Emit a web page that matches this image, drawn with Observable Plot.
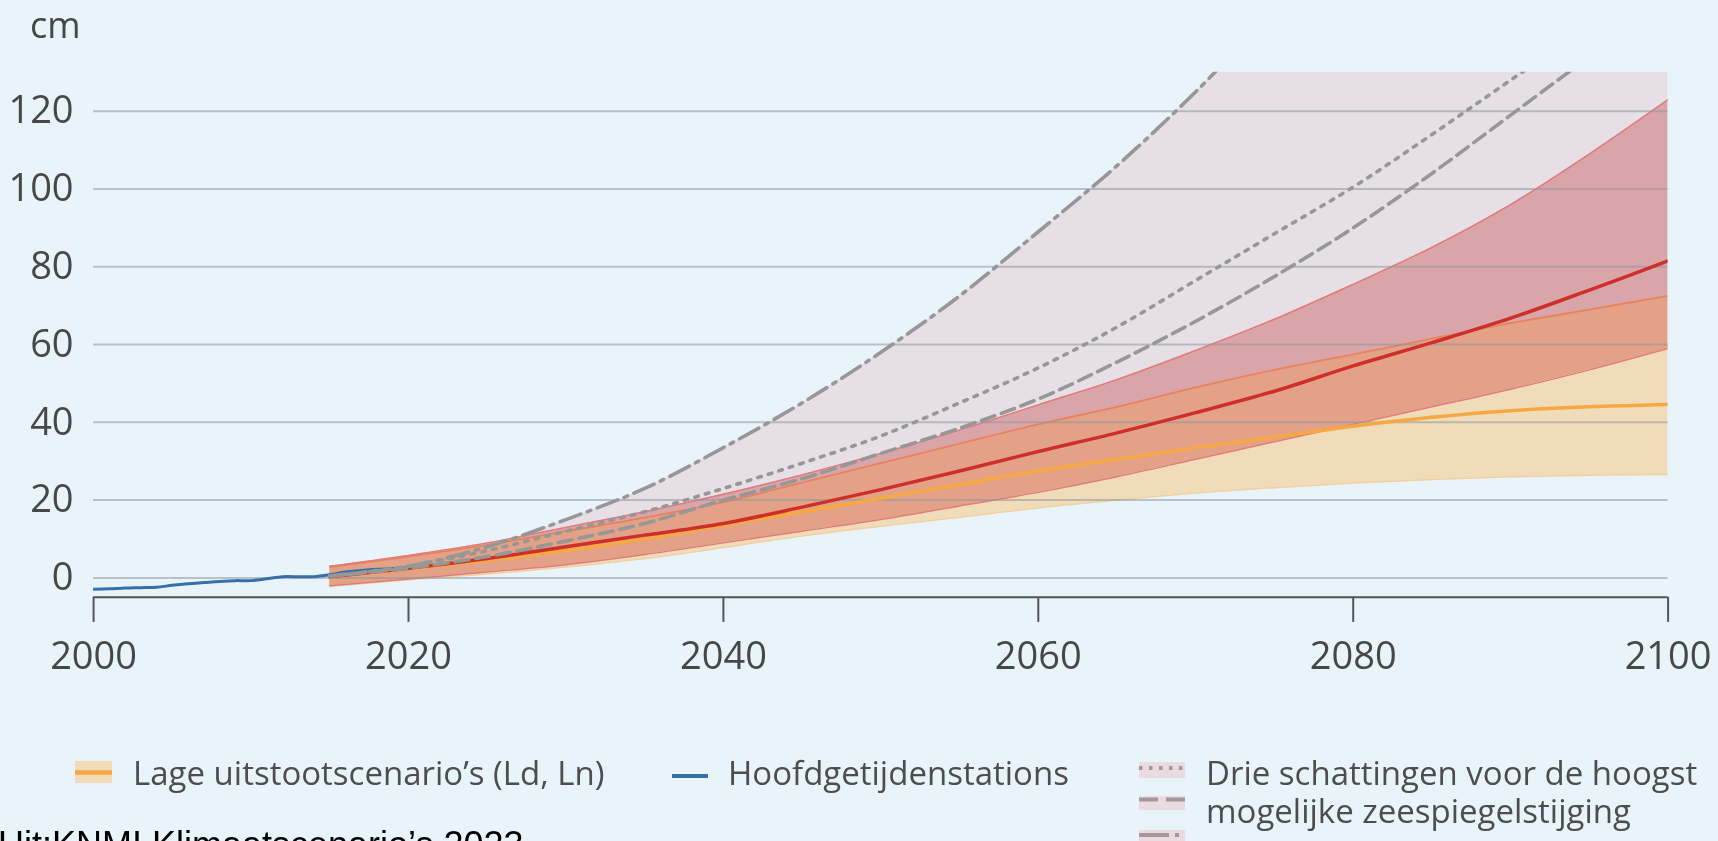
<!DOCTYPE html>
<html>
<head>
<meta charset="utf-8">
<script src="https://cdn.jsdelivr.net/npm/d3@7"></script>
<script src="https://cdn.jsdelivr.net/npm/@observablehq/plot@0.6"></script>
<style>
  html, body { margin: 0; padding: 0; background: #e8f4fa; width: 1718px; height: 841px; overflow: hidden; }
  svg { display: block; }
</style>
</head>
<body>
<script>
// ---------- data ----------
const years = [2015, 2020, 2025, 2030, 2035, 2040, 2045, 2050, 2055, 2060, 2065, 2070, 2075, 2080, 2085, 2090, 2095, 2100];

// high emission scenario band (red)
const highLow = [-2, -0.3, 1.5, 3.4, 6, 9, 12, 15, 18.5, 22, 26, 30.5, 35, 39.5, 44, 48.5, 53.5, 59];
const highMid = [0.3, 2.5, 5, 8, 11, 14, 18.2, 22.7, 27.5, 32.5, 37.3, 42.5, 48, 54.5, 60.5, 66.8, 74, 81.5];
const highUp  = [3, 5.8, 9, 13, 17, 21.5, 26.5, 32, 38, 44.5, 51, 58.5, 66.5, 75.5, 85, 96, 109, 123];

// low emission scenarios (Ld, Ln) band (orange)
const lowLow = [-2.2, -0.5, 1, 2.8, 5, 7.8, 10.8, 13.3, 15.6, 18, 20, 21.8, 23.2, 24.4, 25.3, 26, 26.4, 26.6];
const lowMid = [0.3, 2.3, 4.5, 7, 10, 13.5, 17, 20.5, 24, 27.5, 30.5, 33.5, 36.2, 39, 41.3, 43, 44, 44.6];
const lowUp  = [2.8, 5.5, 8.5, 12, 15.5, 19.5, 24.5, 29.5, 34.5, 39.5, 44, 49, 53.5, 57.5, 61.5, 65.5, 69, 72.5];

// three estimates of the highest possible sea level rise
const dotted  = [0.5, 3, 7, 12, 17, 23, 29.5, 36.5, 45, 54, 64.5, 76.5, 88.5, 100.5, 114, 128, 142, NaN];
const dashed  = [0.5, 2.5, 5.5, 9.5, 14, 20, 25.5, 32, 38.5, 46, 55.5, 66, 77.5, 90, 104, 119, 134, NaN];
const dashDot = [0.5, 3, 8, 15, 23, 33.5, 45, 58, 72.5, 89, 106, 125, 146, NaN, NaN, NaN, NaN, NaN];
// upper edge of the shaded "highest possible" region (runs off the top of the frame after ~2072)
const envTop  = [0.5, 3, 8, 15, 23, 33.5, 45, 58, 72.5, 89, 106, 125, 146, 150, 150, 150, 150, 150];

// observations: Hoofdgetijdenstations
const obsYears  = [2000, 2001, 2002, 2003, 2004, 2005, 2006, 2007, 2008, 2009, 2010, 2011, 2012, 2013, 2014, 2015, 2016, 2017, 2018, 2019, 2020];
const obsValues = [-2.9, -2.8, -2.6, -2.5, -2.4, -1.9, -1.5, -1.2, -0.9, -0.7, -0.7, -0.2, 0.3, 0.3, 0.3, 0.8, 1.5, 1.9, 2.2, 2.4, 2.7];

const xTicks = [2000, 2020, 2040, 2060, 2080, 2100];
const yTicks = [0, 20, 40, 60, 80, 100, 120];
const unitLabel = "cm";
const legendLabels = ["Lage uitstootscenario’s (Ld, Ln)", "Hoofdgetijdenstations", "Drie schattingen voor de hoogst", "mogelijke zeespiegelstijging"];
const captionText = "Uit:KNMI Klimaatscenario’s 2023";

// ---------- tables ----------
const proj = years.map((year, i) => ({
  year, highLow: highLow[i], highMid: highMid[i], highUp: highUp[i],
  lowLow: lowLow[i], lowMid: lowMid[i], lowUp: lowUp[i],
  dotted: dotted[i], dashed: dashed[i], dashDot: dashDot[i], envTop: envTop[i]
}));
const obs = obsYears.map((year, i) => ({year, value: obsValues[i]}));

const FONT = "'Open Sans', 'Noto Sans', sans-serif";
const TEXT = "#474747";
const GRAY = "#979797";
const curve = "catmull-rom";

// ---------- header (unit) ----------
const head = d3.create("svg").attr("width", 1718).attr("height", 50);
head.append("text").attr("x", 30).attr("y", 38).attr("font-family", FONT)
  .attr("font-size", 36).attr("fill", TEXT).text(unitLabel);
document.body.append(head.node());

// ---------- plot ----------
const chart = Plot.plot({
  width: 1718,
  height: 650,
  marginTop: 21.8,
  marginBottom: 103.15,
  marginLeft: 93.1,
  marginRight: 50.4,
  style: {background: "transparent", fontFamily: FONT, fontSize: "38px", color: TEXT, overflow: "visible"},
  x: {domain: [2000, 2100]},
  y: {domain: [-5, 130]},
  marks: [
    Plot.areaY(proj, {x: "year", y1: "highLow", y2: "envTop", fill: "#e6e0e6", curve, clip: true}),
    Plot.areaY(proj, {x: "year", y1: "lowLow", y2: "lowUp", fill: "#f0dcb9", curve, clip: true}),
    Plot.lineY(proj, {x: "year", y: "lowUp", stroke: "#f4b080", strokeWidth: 1.8, curve, clip: true}),
    Plot.lineY(proj, {x: "year", y: "lowLow", stroke: "#f2cf9c", strokeWidth: 1.5, curve, clip: true}),
    Plot.areaY(proj, {x: "year", y1: "highLow", y2: "highUp", fill: "#f2bcbb", mixBlendMode: "multiply", curve, clip: true}),
    Plot.lineY(proj, {x: "year", y: "highUp", stroke: "#e27a7a", strokeWidth: 1.4, curve, clip: true}),
    Plot.lineY(proj, {x: "year", y: "highLow", stroke: "#e27a7a", strokeWidth: 1.4, curve, clip: true}),
    Plot.gridY(yTicks, {stroke: "#8f979c", strokeOpacity: 0.55, strokeWidth: 2}),
    Plot.lineY(proj, {x: "year", y: "lowMid", stroke: "#f5a843", strokeWidth: 3.5, curve, clip: true}),
    Plot.lineY(proj, {x: "year", y: "highMid", stroke: "#cf2f2b", strokeWidth: 3.5, curve, clip: true}),
    Plot.lineY(obs, {x: "year", y: "value", stroke: "#3670a9", strokeWidth: 3, curve, clip: true}),
    Plot.lineY(proj, {x: "year", y: "dotted", stroke: GRAY, strokeWidth: 3.6, strokeDasharray: "3.6,7.4", curve, clip: true}),
    Plot.lineY(proj, {x: "year", y: "dashed", stroke: GRAY, strokeWidth: 3.6, strokeDasharray: "14,7", curve, clip: true}),
    Plot.lineY(proj, {x: "year", y: "dashDot", stroke: GRAY, strokeWidth: 3.6, strokeDasharray: "22,7,3.6,7", curve, clip: true}),
    Plot.axisY({ticks: yTicks, tickSize: 0, tickPadding: 20, label: null, fill: TEXT, fontSize: 38}),
    Plot.axisX({ticks: xTicks, tickSize: 25, tickPadding: 20, tickFormat: d => String(d), label: null,
                stroke: "#555", strokeWidth: 2, fill: TEXT, fontSize: 38}),
    Plot.ruleY([-5], {stroke: "#555", strokeWidth: 2})
  ]
});
// make sure the red band multiplies with what is under it
const areas = chart.querySelectorAll('g[aria-label="area"]');
if (areas[2]) areas[2].style.mixBlendMode = "multiply";
document.body.append(chart);

// ---------- legend + caption ----------
const leg = d3.create("svg").attr("width", 1718).attr("height", 141);
const lt = (x, y, s) => leg.append("text").attr("x", x).attr("y", y).attr("font-family", FONT)
  .attr("font-size", 33).attr("fill", "#4d4d4d").text(s);

// low scenarios swatch
leg.append("rect").attr("x", 75).attr("y", 61).attr("width", 37).attr("height", 22).attr("fill", "#f0dcb9");
leg.append("line").attr("x1", 75).attr("x2", 112).attr("y1", 72.5).attr("y2", 72.5)
  .attr("stroke", "#f5a843").attr("stroke-width", 4.5);
lt(133, 85, legendLabels[0]);

// observations swatch
leg.append("line").attr("x1", 672).attr("x2", 708).attr("y1", 76).attr("y2", 76)
  .attr("stroke", "#3670a9").attr("stroke-width", 4);
lt(728, 85, legendLabels[1]);

// three estimates swatches
const sw = [
  {y: 62, h: 16, ly: 68, dash: "3.5,6.5"},
  {y: 96, h: 14, ly: 99.5, dash: "19,8"},
  {y: 130, h: 14, ly: 135, dash: "30,6,4,6"}
];
sw.forEach(s => {
  leg.append("rect").attr("x", 1139).attr("y", s.y).attr("width", 46).attr("height", s.h).attr("fill", "#eadbe0");
  leg.append("line").attr("x1", 1139).attr("x2", 1185).attr("y1", s.ly).attr("y2", s.ly)
    .attr("stroke", "#a3979c").attr("stroke-width", 4).attr("stroke-dasharray", s.dash);
});
lt(1206, 85, legendLabels[2]);
lt(1206, 123, legendLabels[3]);

leg.append("text").attr("x", -2).attr("y", 157).attr("font-family", "'Liberation Sans', Arial, sans-serif")
  .attr("font-size", 36).attr("fill", "#000").text(captionText);
leg.style("overflow", "visible");
document.body.append(leg.node());
</script>
</body>
</html>
